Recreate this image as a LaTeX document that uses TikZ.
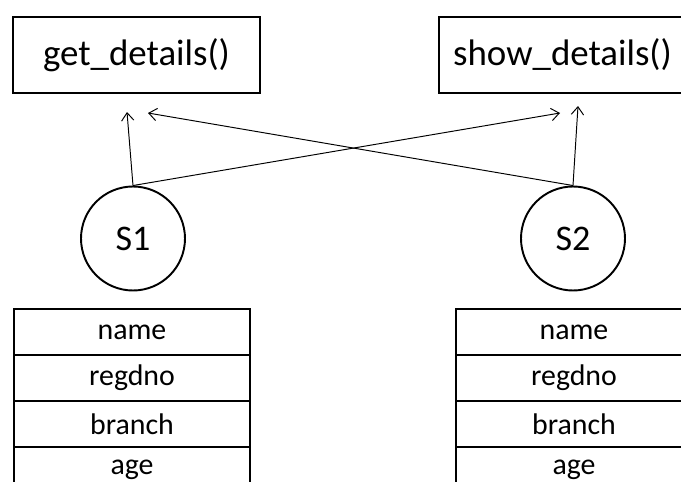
\documentclass[tikz,border=0pt]{standalone}
\usepackage{fontspec}
\setmainfont{Carlito}
\usetikzlibrary{arrows.meta}

\tikzset{
  method/.style={draw,line width=1.1pt,minimum width=4.94cm,minimum height=1.52cm,inner sep=0pt,font=\fontsize{21}{25}\selectfont},
  object/.style={draw,circle,line width=1.1pt,minimum size=2.08cm,inner sep=0pt,font=\fontsize{20.5}{25}\selectfont},
  field/.style={draw,line width=0.8pt,minimum width=4.72cm,minimum height=0.92cm,inner sep=0pt,font=\fontsize{17}{20}\selectfont},
  call/.style={-{Straight Barb[length=4.5pt,width=7pt]},line width=0.55pt}
}

\begin{document}
\begin{tikzpicture}[scale=1]

\useasboundingbox (0,0) rectangle (13.62,-9.64);
\clip (0,0) rectangle (13.62,-9.64);

% Method boxes
\node[method] (get) at (2.73,-1.1) {get\_details()};
\node[method] (show) at (11.25,-1.1) {show\_details()};

% Objects
\node[object] (s1) at (2.66,-4.77) {S1};
\node[object] (s2) at (11.46,-4.77) {S2};

% Arrow ends just below the boxes
\coordinate (g1) at (2.54,-2.24);
\coordinate (g2) at (2.96,-2.26);
\coordinate (h1) at (11.2,-2.26);
\coordinate (h2) at (11.56,-2.12);

% Calls
\draw[call] (s1.north) -- (g1);
\draw[call] (s1.north) -- (h1);
\draw[call] (s2.north) -- (g2);
\draw[call] (s2.north) -- (h2);

% Data members of each object
\foreach \f [count=\i] in {name,regdno,branch,age}
{
\node[field] (a\i) at (2.64,{-6.64-0.92*(\i-1)}) {\f};
\node[field] (b\i) at (11.48,{-6.64-0.92*(\i-1)}) {\f};
}

\end{tikzpicture}
\end{document}
